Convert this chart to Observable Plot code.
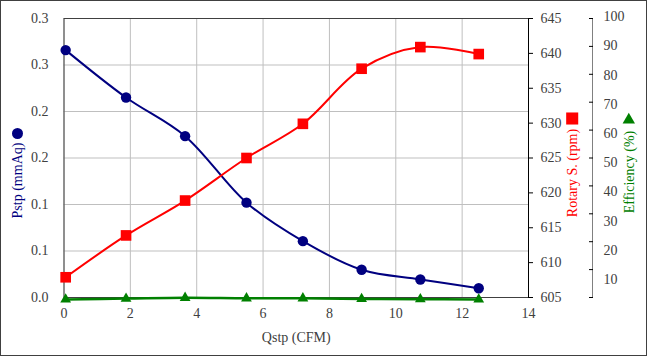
<!DOCTYPE html>
<html><head><meta charset="utf-8">
<script src="https://cdn.jsdelivr.net/npm/d3@7"></script>
<script src="https://cdn.jsdelivr.net/npm/@observablehq/plot@0.6"></script>
<style>
body{margin:0;background:#fff}
#chart{position:relative;width:647px;height:356px;overflow:hidden;background:#fff}
#chart svg{position:absolute;left:0;top:0}
#chart svg text{font-family:'Liberation Serif','Times New Roman',serif}
#border{position:absolute;left:0;top:0;width:647px;height:356px;box-sizing:border-box;border:1px solid #404040;pointer-events:none;z-index:10}
</style></head>
<body><div id="chart"><div id="border"></div></div>
<script>
// ---- data ----
const qstp = [0.05, 1.87, 3.65, 5.5, 7.2, 8.97, 10.74, 12.5];
const pstp = [0.266, 0.215, 0.1735, 0.102, 0.0606, 0.0298, 0.0194, 0.010];
const rotary = [607.9, 613.9, 618.9, 625.0, 629.9, 637.8, 640.9, 639.9];
const efficiency = [-0.7, -0.4, -0.1, -0.3, -0.3, -0.5, -0.6, -0.7];

const xTicks = [0, 2, 4, 6, 8, 10, 12, 14];
const pstpTicks = [0, 0.05, 0.1, 0.15, 0.2, 0.25, 0.3];
const pstpTickLabels = ["0.0", "0.1", "0.1", "0.2", "0.2", "0.3", "0.3"];
const rpmTicks = [605, 610, 615, 620, 625, 630, 635, 640, 645];
const effTicks = [0, 10, 20, 30, 40, 50, 60, 70, 80, 90, 100];
const effTickLabels = ["", "10", "20", "30", "40", "50", "60", "70", "80", "90", "100"];

const xTitle = "Qstp (CFM)";
const pTitle = "Pstp (mmAq)";
const rTitle = "Rotary S. (rpm)";
const eTitle = "Efficiency (%)";

const data = qstp.map((q, i) => ({q, p: pstp[i], r: rotary[i], e: efficiency[i]}));

// ---- layout ----
const W = 647, H = 356, ML = 63.5, MR = 119, MT = 18, MB = 59;
const NAVY = "#000080", RED = "#ff0000", GREEN = "#008000", INK = "#404040";
const FONT = "'Liberation Serif', 'Times New Roman', serif";
const style = {fontFamily: FONT, fontSize: "14px", background: "transparent", overflow: "visible"};
const xScale = {domain: [0, 14], range: [ML, W - MR]};
const xHidden = {...xScale, axis: null, label: null};
const chart = document.getElementById("chart");

// Plot 1: grid, frame, left axis, x axis, Pstp series
const p1 = Plot.plot({
  width: W, height: H, marginLeft: ML, marginRight: MR, marginTop: MT, marginBottom: MB,
  style, x: {...xScale, label: null}, y: {domain: [0, 0.3], label: null},
  marks: [
    Plot.gridX(xTicks, {stroke: "#bfbfbf", strokeOpacity: 1}),
    Plot.gridY(pstpTicks, {stroke: "#bfbfbf", strokeOpacity: 1}),
    Plot.frame({stroke: INK}),
    Plot.axisY(pstpTicks, {anchor: "left", tickSize: 0, tickPadding: 15.5, label: null, fill: INK, fontFamily: FONT, fontSize: 14,
      tickFormat: d => pstpTickLabels[pstpTicks.indexOf(d)]}),
    Plot.axisX(xTicks, {anchor: "bottom", tickSize: 0, tickPadding: 11, label: null, fill: INK, fontFamily: FONT, fontSize: 14}),
    Plot.line(data, {x: "q", y: "p", stroke: NAVY, strokeWidth: 2, curve: "catmull-rom"}),
    Plot.dot(data, {x: "q", y: "p", r: 5.2, fill: NAVY}),
    Plot.text([xTitle], {frameAnchor: "bottom", dy: 40, textAnchor: "middle", lineAnchor: "middle", fill: INK, fontFamily: FONT, fontSize: 14}),
    Plot.text([pTitle], {frameAnchor: "left", dx: -46.5, dy: 22.5, rotate: -90, textAnchor: "middle", lineAnchor: "middle", fill: NAVY, fontFamily: FONT, fontSize: 14}),
    Plot.dot([0], {x: null, y: null, frameAnchor: "left", dx: -46.5, dy: -24.5, r: 5.5, fill: NAVY})
  ]
});
chart.appendChild(p1);

// Plot 2: rpm axis + series
const p2 = Plot.plot({
  width: W, height: H, marginLeft: ML, marginRight: MR, marginTop: MT, marginBottom: MB,
  style, x: xHidden, y: {domain: [605, 645], label: null},
  marks: [
    Plot.frame({anchor: "right", stroke: "#000"}),
    Plot.axisY(rpmTicks, {anchor: "right", tickSize: 4, tickPadding: 8, label: null, fill: INK, stroke: "#000", fontFamily: FONT, fontSize: 14}),
    Plot.line(data, {x: "q", y: "r", stroke: RED, strokeWidth: 2, curve: "catmull-rom"}),
    Plot.dot(data, {x: "q", y: "r", symbol: "square", r: 6, fill: RED}),
    Plot.text([rTitle], {frameAnchor: "right", dx: 43.7, dy: 15, rotate: -90, textAnchor: "middle", lineAnchor: "middle", fill: RED, fontFamily: FONT, fontSize: 14}),
    Plot.dot([0], {x: null, y: null, frameAnchor: "right", dx: 43.7, dy: -39.5, symbol: "square", r: 6.8, fill: RED})
  ]
});
chart.appendChild(p2);

// Plot 3: efficiency axis line/ticks + series
const MR3 = 55;
const p3 = Plot.plot({
  width: W, height: H, marginLeft: ML, marginRight: MR3, marginTop: MT, marginBottom: MB,
  style, x: xHidden, y: {domain: [0, 100], label: null},
  marks: [
    Plot.frame({anchor: "right", stroke: "#808080"}),
    Plot.axisY(effTicks, {anchor: "right", tickSize: -4, tickPadding: 15, label: null, stroke: "#000", tickFormat: () => ""}),
    Plot.line(data, {x: "q", y: "e", stroke: GREEN, strokeWidth: 2.5, curve: "catmull-rom"}),
    Plot.dot(data, {x: "q", y: "e", symbol: "triangle", r: 4, fill: GREEN}),
    Plot.text([eTitle], {frameAnchor: "right", dx: 37, dy: 14, rotate: -90, textAnchor: "middle", lineAnchor: "middle", fill: GREEN, fontFamily: FONT, fontSize: 14}),
    Plot.dot([0], {x: null, y: null, frameAnchor: "right", dx: 36.3, dy: -38, symbol: "triangle", r: 4.6, fill: GREEN})
  ]
});
chart.appendChild(p3);

// Plot 4: efficiency tick labels (spaced as in the source chart)
const p4 = Plot.plot({
  width: W, height: H, marginLeft: ML, marginRight: MR3, marginTop: MT, marginBottom: MB,
  style, x: xHidden, y: {domain: [0, 100], range: [308.2, 16.2], label: null},
  marks: [
    Plot.axisY(effTicks, {anchor: "right", tickSize: 0, tickPadding: 11, label: null, fill: INK, fontFamily: FONT, fontSize: 14,
      tickFormat: d => effTickLabels[effTicks.indexOf(d)]})
  ]
});
chart.appendChild(p4);
</script>
</body></html>
